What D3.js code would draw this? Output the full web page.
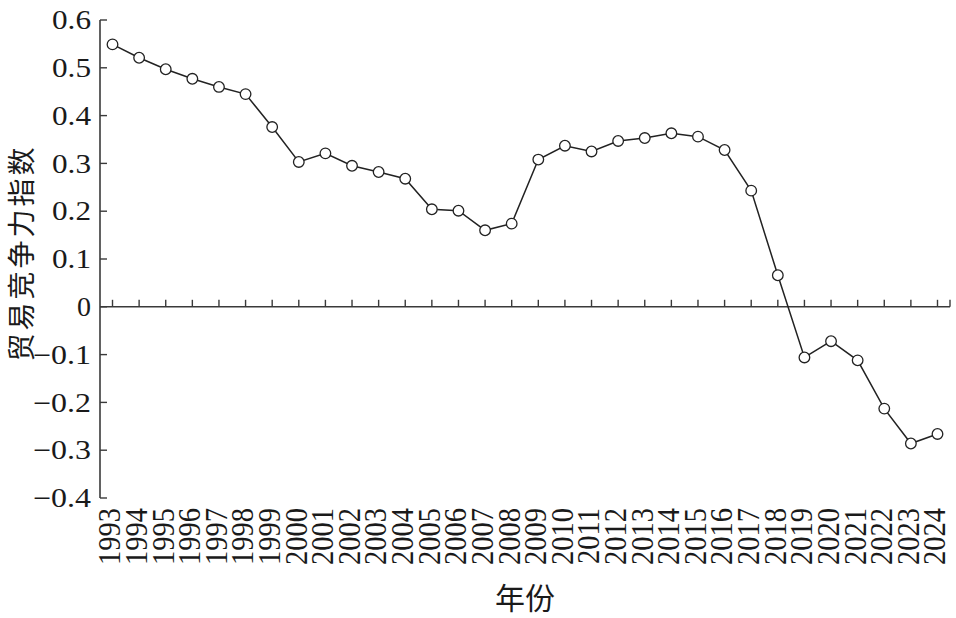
<!DOCTYPE html>
<html>
<head>
<meta charset="utf-8">
<script src="https://cdn.jsdelivr.net/npm/d3@7/dist/d3.min.js"></script>
<style>
  html, body { margin: 0; padding: 0; background: #fff; }
  svg { display: block; }
</style>
</head>
<body>
<svg id="chart" width="956" height="618"></svg>
<script>
const years = [1993,1994,1995,1996,1997,1998,1999,2000,2001,2002,2003,2004,2005,2006,2007,2008,
               2009,2010,2011,2012,2013,2014,2015,2016,2017,2018,2019,2020,2021,2022,2023,2024];
const values = [0.549,0.521,0.497,0.477,0.460,0.445,0.376,0.303,0.321,0.295,0.282,0.268,0.204,0.201,0.160,0.174,
                0.308,0.337,0.325,0.347,0.353,0.363,0.356,0.328,0.243,0.066,-0.106,-0.072,-0.112,-0.213,-0.286,-0.266];
const yTicks = [0.6,0.5,0.4,0.3,0.2,0.1,0,-0.1,-0.2,-0.3,-0.4];
const yTickLabels = ["0.6","0.5","0.4","0.3","0.2","0.1","0","\u22120.1","\u22120.2","\u22120.3","\u22120.4"];
const xTitle = "年份";
const yTitle = "贸易竞争力指数";

(function () {
const svg = d3.select("#chart");
const axisColor = "#3a3a3a";
const lineColor = "#222";
const serif = "'Liberation Serif', 'DejaVu Serif', serif";
const cjk = "'Noto Sans CJK SC', sans-serif";

const mLeft = 100, mRight = 950, mTop = 20, mBottom = 498;
const x = d3.scalePoint().domain(years).range([mLeft, mRight]).padding(0.47);
const y = d3.scaleLinear().domain([-0.4, 0.6]).range([mBottom, mTop]);
const y0 = y(0);

function labelLen(s) {
  if (s.length === 1) return 14;
  if (s.charAt(0) === "\u2212") return 58;
  return 39;
}

// Y axis
const yAxis = svg.append("g").attr("transform", `translate(${mLeft},0)`);
yAxis.append("line").attr("x1", 0).attr("x2", 0).attr("y1", y(0.6)).attr("y2", y(-0.4))
  .attr("stroke", axisColor).attr("stroke-width", 1.6);
yAxis.selectAll("line.t").data(yTicks).enter().append("line").attr("class", "t")
  .attr("x1", 0).attr("x2", 7).attr("y1", d => y(d)).attr("y2", d => y(d))
  .attr("stroke", axisColor).attr("stroke-width", 1.4);
yAxis.selectAll("text").data(yTicks).enter().append("text")
  .attr("x", -9).attr("y", d => y(d)).attr("dy", "0.34em")
  .attr("text-anchor", "end")
  .attr("font-family", serif).attr("font-size", 27).attr("fill", "#1a1a1a")
  .attr("textLength", (d, i) => labelLen(yTickLabels[i]))
  .attr("lengthAdjust", "spacingAndGlyphs")
  .text((d, i) => yTickLabels[i]);

// Zero line (x axis)
const xAxis = svg.append("g");
xAxis.append("line").attr("x1", mLeft).attr("x2", mRight).attr("y1", y0).attr("y2", y0)
  .attr("stroke", axisColor).attr("stroke-width", 1.6);
xAxis.selectAll("line.t").data(years).enter().append("line").attr("class", "t")
  .attr("x1", d => x(d)).attr("x2", d => x(d)).attr("y1", y0).attr("y2", y0 - 7)
  .attr("stroke", axisColor).attr("stroke-width", 1.4);
xAxis.append("line").attr("x1", mRight).attr("x2", mRight).attr("y1", y0).attr("y2", y0 - 7)
  .attr("stroke", axisColor).attr("stroke-width", 1.4);

// X tick labels (rotated, below plot)
svg.append("g").selectAll("text").data(years).enter().append("text")
  .attr("transform", d => `translate(${x(d) - 3},${mBottom + 10}) scale(1.12,1) rotate(-90)`)
  .attr("text-anchor", "end").attr("dy", "0.34em")
  .attr("font-family", serif).attr("font-size", 28.5).attr("fill", "#1a1a1a")
  .text(d => d);

// Line
const line = d3.line().x((d, i) => x(years[i])).y(d => y(d));
svg.append("path").datum(values).attr("d", line)
  .attr("fill", "none").attr("stroke", lineColor).attr("stroke-width", 1.5);

// Markers
svg.append("g").selectAll("circle").data(values).enter().append("circle")
  .attr("cx", (d, i) => x(years[i])).attr("cy", d => y(d)).attr("r", 5.3)
  .attr("fill", "#fff").attr("stroke", lineColor).attr("stroke-width", 1.3);

// Titles
svg.append("text").attr("x", 525).attr("y", 598).attr("dy", "0.35em")
  .attr("text-anchor", "middle").attr("font-family", cjk).attr("font-size", 30)
  .attr("fill", "#1a1a1a").text(xTitle);
svg.append("text").attr("transform", "translate(32,253) rotate(-90)")
  .attr("text-anchor", "middle")
  .attr("font-family", cjk).attr("font-size", 28).attr("letter-spacing", 3)
  .attr("fill", "#1a1a1a").text(yTitle);
})();
</script>
</body>
</html>
